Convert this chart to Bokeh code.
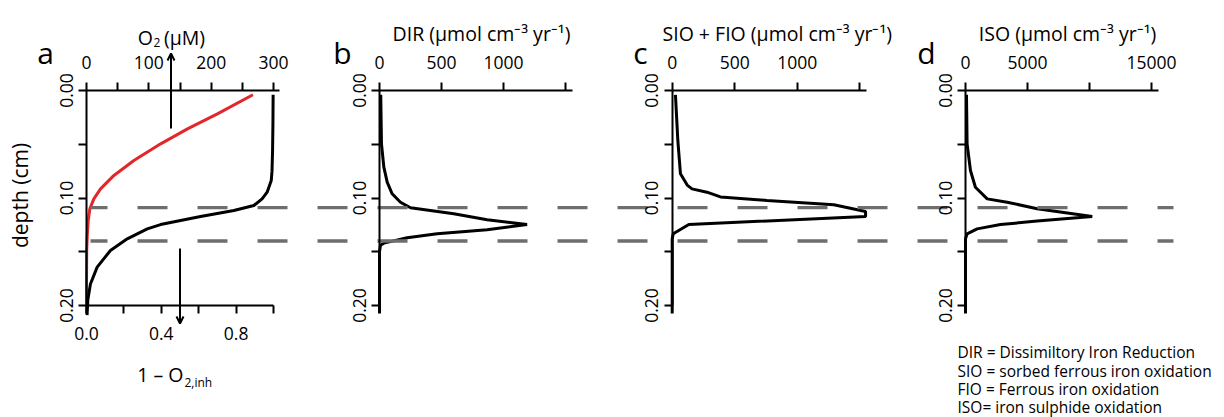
import math
from bokeh.plotting import figure
from bokeh.models import (Range1d, LinearAxis, FixedTicker, PrintfTickFormatter,
                          Arrow, OpenHead)
from bokeh.core.properties import value
from bokeh.embed import file_html
from bokeh.resources import INLINE

# ---------------- data ----------------
# panel a, red: O2 (uM) vs depth (cm)
depth_o2 = [0.004, 0.0217, 0.0357, 0.0496, 0.0651, 0.079, 0.0915, 0.1008, 0.110,
            0.121, 0.135, 0.149, 0.18, 0.2075]
o2 = [267, 210, 162, 119, 76, 44, 22.5, 11.8, 5.4, 2.7, 1.2, 0.3, 0, 0]

# panel a, black: 1 - O2,inh vs depth
depth_inh = [0.004, 0.03, 0.0558, 0.075, 0.0837, 0.0946, 0.1008, 0.107, 0.1116,
             0.1172, 0.1209, 0.1247, 0.1287, 0.138, 0.1488, 0.1643, 0.18, 0.195, 0.209]
inh = [0.998, 0.997, 0.995, 0.992, 0.988, 0.966, 0.939, 0.895, 0.788, 0.61, 0.503,
       0.396, 0.325, 0.218, 0.128, 0.057, 0.021, 0.007, 0.003]

# panel b: DIR rate
depth_dir = [0.004, 0.0496, 0.0713, 0.0853, 0.0961, 0.1039, 0.1091, 0.1147, 0.1203,
             0.1247, 0.1296, 0.1333, 0.137, 0.142, 0.144, 0.15, 0.2075]
dir_rate = [10, 16, 35, 62, 102, 169, 250, 599, 868, 1190, 868, 465, 223, 35, 8, 0, 0]

# panel c: SIO + FIO rate
depth_sfo = [0.004, 0.0465, 0.0775, 0.088, 0.0915, 0.0946, 0.099, 0.1023, 0.1063,
             0.1126, 0.1172, 0.1247, 0.1333, 0.138, 0.2075]
sfo_rate = [26, 45, 66, 120, 158, 278, 386, 758, 1293, 1547, 1547, 133, 8, 0, 0]

# panel d: ISO rate
depth_iso = [0.004, 0.0496, 0.0744, 0.09, 0.1008, 0.1039, 0.11, 0.1172, 0.1215,
             0.1247, 0.1287, 0.1333, 0.138, 0.2075]
iso_rate = [80, 130, 400, 800, 1750, 3360, 5780, 10220, 5780, 2820, 940, 130, 0, 0]

dash_depths = [0.109, 0.14]

depth_major = [0.0, 0.1, 0.2]
depth_minor = [0.05, 0.15]
o2_major, o2_minor = [0, 100, 200, 300], [50, 150, 250]
inh_major, inh_minor = [0.0, 0.4, 0.8], [0.2, 0.6, 1.0]
dir_major, dir_minor = [0, 500, 1000], [1500]
sfo_major, sfo_minor = [0, 500, 1000], [1500]
iso_major, iso_minor = [0, 5000, 15000], [10000]

titles = ["DIR (\u03bcmol cm\u207b\u00b3 yr\u207b\u00b9)",
          "SIO + FIO (\u03bcmol cm\u207b\u00b3 yr\u207b\u00b9)",
          "ISO (\u03bcmol cm\u207b\u00b3 yr\u207b\u00b9)"]
letters = ["a", "b", "c", "d"]
legend_lines = ["DIR = Dissimiltory Iron Reduction",
                "SIO = sorbed ferrous iron oxidation",
                "FIO = Ferrous iron oxidation",
                "ISO= iron sulphide oxidation"]

# ---------------- layout ----------------
FONT = "Open Sans"
W, H = 1224, 417
Y0, YK = 90.0, 1075.0          # screen y of depth 0, px per depth unit
panels = {                      # screen x of value 0, px per unit
    "o2": (86.0, 187 / 300),
    "inh": (86.0, 187.0),
    "dir": (379.0, 62 / 500),
    "sfo": (671.7, 62.5 / 500),
    "iso": (965.0, 62 / 5000),
}

p = figure(width=W, height=H, output_backend="svg", toolbar_location=None,
           x_range=Range1d(0, W),
           y_range=Range1d((H - Y0) / YK, (0 - Y0) / YK),
           x_axis_location=None, y_axis_location=None, min_border=0,
           outline_line_color=None)
p.grid.visible = False
p.extra_y_ranges["py"] = Range1d(H, 0)
for name, (x0, k) in panels.items():
    p.extra_x_ranges[name] = Range1d((0 - x0) / k, (W - x0) / k)


def style(ax, standoff):
    ax.axis_line_color = "black"
    ax.axis_line_width = 2
    for t in ("major", "minor"):
        setattr(ax, f"{t}_tick_line_color", "black")
        setattr(ax, f"{t}_tick_line_width", 2)
        setattr(ax, f"{t}_tick_in", 0)
        setattr(ax, f"{t}_tick_out", 8)
    ax.major_label_text_font = FONT
    ax.major_label_text_font_size = "17.5px"
    ax.major_label_text_color = "black"
    ax.major_label_standoff = standoff


# top axes
for name, major, minor, bend in [("o2", o2_major, o2_minor, 310),
                                  ("dir", dir_major, dir_minor, 1556),
                                  ("sfo", sfo_major, sfo_minor, 1552),
                                  ("iso", iso_major, iso_minor, 15590)]:
    ax = LinearAxis(x_range_name=name, fixed_location=0, bounds=(0, bend),
                    ticker=FixedTicker(ticks=major, minor_ticks=minor),
                    formatter=PrintfTickFormatter(format="%d"))
    style(ax, 14)
    p.add_layout(ax, "above")

# bottom axis panel a
ax = LinearAxis(x_range_name="inh", fixed_location=0.2, bounds=(0, 1),
                ticker=FixedTicker(ticks=inh_major, minor_ticks=inh_minor),
                formatter=PrintfTickFormatter(format="%.1f"))
style(ax, 13)
p.add_layout(ax, "below")

# left depth axes
for name in ["o2", "dir", "sfo", "iso"]:
    ax = LinearAxis(fixed_location=panels[name][0], bounds=(0, 0.2),
                    ticker=FixedTicker(ticks=depth_major, minor_ticks=depth_minor),
                    formatter=PrintfTickFormatter(format="%.2f"),
                    major_label_orientation="vertical")
    style(ax, 6)
    p.add_layout(ax, "left")

# curves
p.line(o2, depth_o2, x_range_name="o2", line_color="#e3262b", line_width=3)
p.line(inh, depth_inh, x_range_name="inh", line_color="black", line_width=3)
p.line(dir_rate, depth_dir, x_range_name="dir", line_color="black", line_width=3)
p.line(sfo_rate, depth_sfo, x_range_name="sfo", line_color="black", line_width=3)
p.line(iso_rate, depth_iso, x_range_name="iso", line_color="black", line_width=3)

# dashed reference depths across all panels
p.segment(x0=[90] * 2, x1=[1173] * 2, y0=dash_depths, y1=dash_depths,
          line_color="#6e6e6e", line_width=3.3, line_dash="30 30",
          line_dash_offset=13)

# arrows in panel a
p.add_layout(Arrow(end=OpenHead(size=7, line_width=2, line_color="black"),
                   x_start=170.5, y_start=128, x_end=170.5, y_end=53,
                   y_range_name="py", line_width=2, line_color="black"))
p.add_layout(Arrow(end=OpenHead(size=7, line_width=2, line_color="black"),
                   x_start=179.5, y_start=248, x_end=179.5, y_end=323,
                   y_range_name="py", line_width=2, line_color="black"))

tf = value(FONT)
# panel a top title  O2 (uM)
p.text(x=[152.5], y=[37], text=["O"], y_range_name="py", text_font=tf,
       text_font_size="19.5px", text_align="right", text_baseline="alphabetic")
p.text(x=[153], y=[42], text=["2"], y_range_name="py", text_font=tf,
       text_font_size="12px", text_align="left", text_baseline="alphabetic")
p.text(x=[163.5], y=[37], text=["(\u03bcM)"], y_range_name="py", text_font=tf,
       text_font_size="19.5px", text_align="left", text_baseline="alphabetic")
# rate panel titles
p.text(x=[481, 776.7, 1067], y=[33, 33, 33], text=titles, y_range_name="py",
       text_font=tf, text_font_size="19.5px", text_align="center",
       text_baseline="alphabetic")
# bottom axis title panel a
p.text(x=[183], y=[374], text=["1 \u2013 O"], y_range_name="py", text_font=tf,
       text_font_size="19.5px", text_align="right", text_baseline="alphabetic")
p.text(x=[184], y=[382], text=["2,inh"], y_range_name="py", text_font=tf,
       text_font_size="12px", text_align="left", text_baseline="alphabetic")
# panel letters
p.text(x=[45, 342, 640, 926], y=[52] * 4, text=letters, y_range_name="py",
       text_font=tf, text_font_size="30px", text_align="center",
       text_baseline="alphabetic")
# depth label
p.text(x=[19], y=[195], text=["depth (cm)"], y_range_name="py", angle=math.pi / 2,
       text_font=tf, text_font_size="21px", text_align="center",
       text_baseline="middle")
# legend text
p.text(x=[957] * 4, y=[351.7, 370, 388.3, 406.7], text=legend_lines,
       y_range_name="py", text_font=tf, text_font_size="15.5px",
       text_align="left", text_baseline="middle")

open("out.html", "w").write(file_html(p, INLINE))
